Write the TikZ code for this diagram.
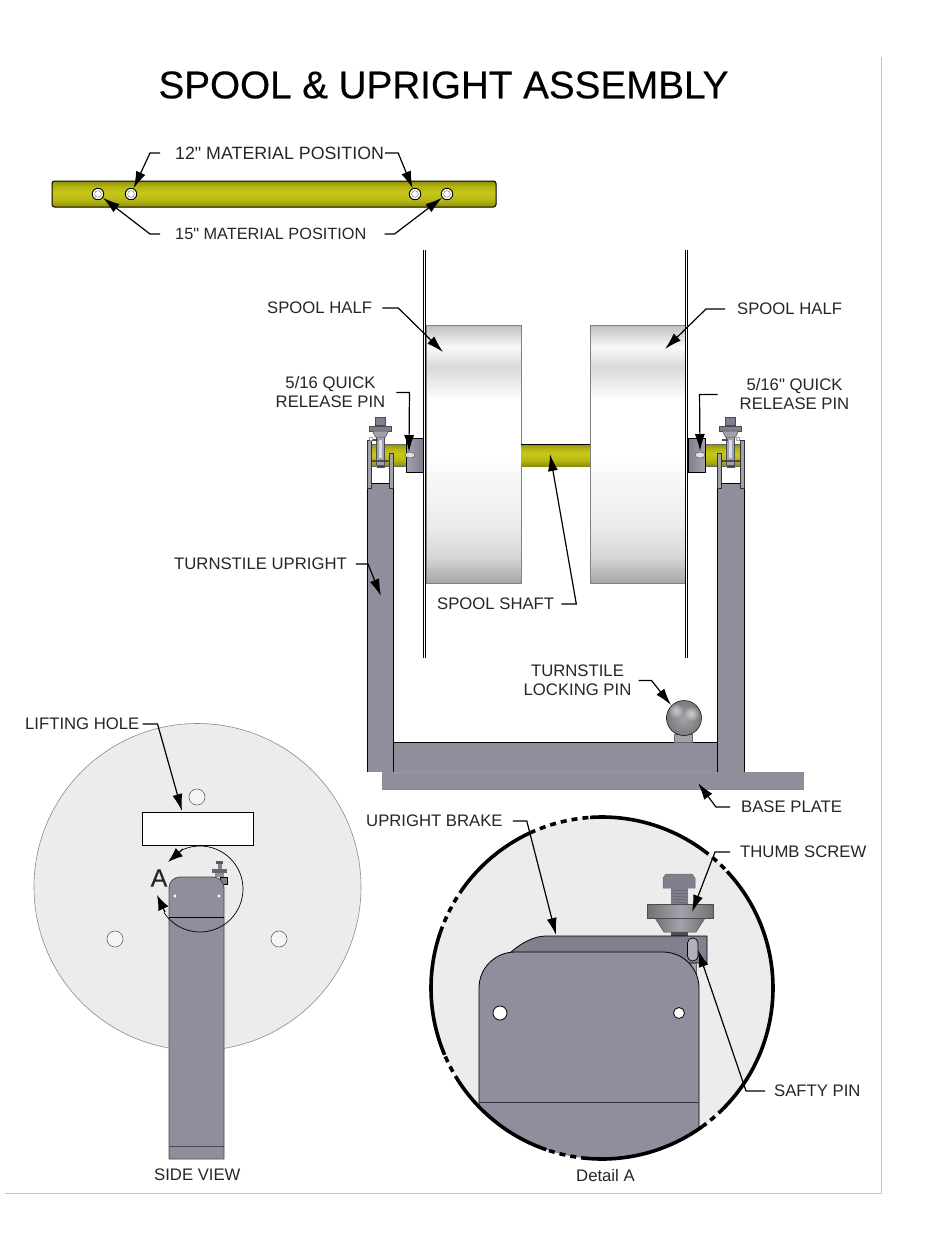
\documentclass[tikz,border=0pt]{standalone}
\usepackage{fontspec}
\setmainfont{Liberation Sans}[Ligatures=TeXOff]
\usetikzlibrary{arrows.meta}
\definecolor{steel}{HTML}{8E8E9C}
\definecolor{steelD}{HTML}{7F7F8D}
\definecolor{steelL}{HTML}{A2A2AE}
\definecolor{olive}{HTML}{B4B412}
\definecolor{oliveL}{HTML}{C8C818}
\definecolor{oliveD}{HTML}{8E8E0C}
\definecolor{disc}{HTML}{ECECEC}
\definecolor{pageline}{HTML}{C4C4C4}
\pgfdeclareverticalshading{drum}{100bp}{color(0bp)=(black!35); color(25bp)=(black!35); color(30bp)=(black!16); color(36bp)=(black!8); color(45.5bp)=(black!3); color(49.5bp)=(white); color(60.5bp)=(white); color(67bp)=(black!15); color(70.75bp)=(black!2); color(75bp)=(black!25); color(100bp)=(black!25)}
\pgfdeclareverticalshading{barshade}{100bp}{color(0bp)=(oliveD); color(25bp)=(oliveD); color(37bp)=(olive); color(52bp)=(oliveL); color(65bp)=(olive); color(75bp)=(oliveD); color(100bp)=(oliveD)}
\tikzset{
  lab/.style={font=\fontsize{16.7}{19}\selectfont,text=black!85,inner sep=0pt,anchor=west,align=center},
  leader/.style={draw=black,line width=1pt},
  tip/.style={leader,line width=1.2pt,-{Latex[length=17pt,width=10pt]}},
  pics/thumbpin/.style={code={
    \fill[steelL] (-4,425) rectangle (4,465);
    \fill[white!70!steel] (-2,440) rectangle (1,458);
    \draw[line width=.6pt,black!70] (-4,431) -- (-4,465) (4,431) -- (4,465);
    \filldraw[fill=steelD,draw=black!70,line width=.5pt] (-5,417) rectangle (5,425);
    \filldraw[fill=steelD,draw=black!70,line width=.5pt] (-11,426) rectangle (11,431);
    \filldraw[fill=steelL,draw=black!70,line width=.5pt] (-8,431) -- (8,431) -- (5,437) -- (-5,437) -- cycle;
    \fill[black!70] (-9,460) rectangle (9,462);
    \fill[black!70] (-4,465) rectangle (4,468);
    \fill[black!70] (-9,439) rectangle (-3,441);
  }},
}
\begin{document}
\begin{tikzpicture}[x=1pt,y=-1pt]
\useasboundingbox (0,0) rectangle (950,1254);
\fill[white] (0,0) rectangle (950,1254);
% page lines
\draw[pageline,line width=1pt] (881,57) -- (881,1193) -- (5,1193);
% title
\node[inner sep=0pt,font=\fontsize{38.6}{44}\selectfont\addfontfeature{FakeBold=0.4},text=black] (title) at (443.5,85) {SPOOL \& UPRIGHT ASSEMBLY};

% ---- top bar
\path[shading=barshade,draw=black,line width=1pt,rounded corners=2.5pt] (52,181) rectangle (496,207);
\foreach \n/\x in {h1/98,h2/131,h3/415,h4/447}{
  \node[circle,draw=black,line width=.9pt,fill=white,minimum size=11.5pt,inner sep=0pt] (\n) at (\x,194) {};
  \fill[black!55] (\x,194) circle[radius=3.6];
  \fill[white] (\x,194) circle[radius=3];
}
\node[lab,font=\fontsize{17.8}{19}\selectfont] (m12) at (175,153) {12" MATERIAL POSITION};
\node[lab,font=\fontsize{16.3}{19}\selectfont] (m15) at (175,234) {15" MATERIAL POSITION};
\draw[tip] ([xshift=-15pt]m12.west) -- ++(-10,0) -- (h2);
\draw[tip] ([xshift=1pt]m12.east) -- ++(13,0) -- (h3);
\draw[tip] ([xshift=-15pt]m15.west) -- ++(-10,0) -- (h1);
\draw[tip] ([xshift=18pt]m15.east) -- ++(10,0) -- (h4);

% ---- spool
\path[shading=drum,draw=black!50,line width=.6pt] (426,325) rectangle (521,583);
\path[shading=drum,draw=black!50,line width=.6pt] (590,325) rectangle (685,583);
\node[inner sep=0pt,minimum width=69pt,minimum height=22pt,shading=barshade] (shaft) at (555.5,455) {};
\draw[black,line width=.9pt] (521,444) -- (590,444);
\foreach \x in {423.3,425.7,685.3,687.5}{\draw[black,line width=.8pt] (\x,250) -- (\x,658);}
% stub shafts
\path[shading=barshade,draw=black!60,line width=.4pt] (371,444) rectangle (406,466);
\path[shading=barshade,draw=black!60,line width=.4pt] (705,444) rectangle (740,466);
% hubs
\path[left color=steelL,right color=steelD,draw=black,line width=.8pt] (406,438) rectangle (423,472);
\path[left color=steelD,right color=steelL,draw=black,line width=.8pt] (688,438) rectangle (705,472);
% release pins
\filldraw[fill=white!75!gray,draw=black!70,line width=.4pt] (410,455) ellipse[x radius=5,y radius=3];
\filldraw[fill=white!75!gray,draw=black!70,line width=.4pt] (700,455) ellipse[x radius=5,y radius=3];
\coordinate (pinL) at (409,452);
\coordinate (pinR) at (700,451);
% base plate, base, uprights
\path[fill=steel,draw=black!45,line width=.6pt] (382,772) rectangle (803,789);
\fill[steel] (367,483) rectangle (393,772);
\fill[steel] (717,483) rectangle (744,772);
\fill[steel] (393,742) rectangle (717,772);
\draw[black,line width=.9pt] (367,772) -- (367,483) -- (393,483) -- (393,742) -- (717,742) -- (717,483) -- (744,483) -- (744,772);
\draw[black,line width=.8pt] (393,742) -- (393,772) (717,742) -- (717,772);
\draw[black!40,line width=.5pt] (393,772) -- (717,772);
\foreach \a/\b/\c in {367/371/440,389/393/453,717/721/453,740.5/744/440}{
  \filldraw[fill=steelL,draw=black!80,line width=.5pt] (\a,\c) rectangle (\b,488);
}
\pic at (380.5,0) {thumbpin};
\pic at (730.5,0) {thumbpin};
\filldraw[fill=white,draw=black!70,line width=.4pt] (371,439) circle[radius=2];
\filldraw[fill=white,draw=black!70,line width=.4pt] (738,439) circle[radius=2];
\coordinate (baseT) at (698,783);
% ball
\filldraw[fill=steelL,draw=black!60,line width=.5pt] (674,734) rectangle (692,742);
\path[inner color=steelL,outer color=black!52,draw=black,line width=.5pt] (684,718) circle[radius=17.5];
\foreach \r in {7,6,5,4,3,2}{
  \fill[white,opacity=.1] (676,711) circle[radius=\r];
  \fill[white,opacity=.1] (692,714) circle[radius=\r];
}
\coordinate (ballT) at (671,705);

% labels main
\node[lab] (shL) at (267,308) {SPOOL HALF};
\node[lab] (shR) at (737,309) {SPOOL HALF};
\coordinate (shLt) at (443,352);
\coordinate (shRt) at (665,349);
\draw[tip] ([xshift=10pt]shL.east) -- ++(16,0) -- (shLt);
\draw[tip] ([xshift=-12pt]shR.west) -- ++(-19,0) -- (shRt);
\node[lab,anchor=center,align=center] (qL) at (330.5,392.5) {5/16 QUICK\\RELEASE PIN};
\node[lab,anchor=center,align=center] (qR) at (794.5,394.5) {5/16" QUICK\\RELEASE PIN};
\draw[tip] ([xshift=11pt]qL.east) -- ++(13,0) -- (pinL);
\draw[tip] ([xshift=-22pt]qR.west) -- ++(-18,0) -- (pinR);
\node[lab] (tu) at (174,564) {TURNSTILE UPRIGHT};
\coordinate (tuT) at (381,596);
\draw[tip] ([xshift=9pt]tu.east) -- ++(12,0) -- (tuT);
\node[lab] (ss) at (437,604) {SPOOL SHAFT};
\coordinate (ssT) at (550,454);
\draw[tip] ([xshift=7pt]ss.east) -- ++(15,0) -- (ssT);
\node[lab,anchor=center,align=center] (lp) at (577.5,680.5) {TURNSTILE\\LOCKING PIN};
\draw[tip] ([xshift=7pt]lp.east) -- ++(13,0) -- (ballT);
\node[lab] (bp) at (741,807) {BASE PLATE};
\draw[tip] ([xshift=-11pt]bp.west) -- ++(-14,0) -- (baseT);

% ---- side view
\filldraw[fill=disc,draw=black!45,line width=.6pt] (197.5,887) circle[radius=163.5];
\node[draw=black,line width=.9pt,fill=white,minimum width=111pt,minimum height=33pt,inner sep=0pt] (lift) at (197.5,828.5) {};
\coordinate (liftT) at (182,811);
\foreach \x/\y in {197/797,115/939,279/939}{
  \draw[black!60,fill=white!50!disc,line width=.6pt] (\x,\y) circle[radius=8];
}
% small brake
\fill[black!65] (216,861) rectangle (223,864);
\fill[steelD] (218,864) rectangle (222,869);
\fill[black!60] (212,869) rectangle (227,873);
\fill[steel] (215,873) rectangle (224,877);
\filldraw[fill=steelD,draw=black,line width=.4pt] (220,877) rectangle (227,884);
\path[fill=steel,draw=black!70,line width=.8pt,rounded corners=11pt] (169,1159) -- (169,877) -- (224,877) [sharp corners] -- (224,1159) -- cycle;
\draw[black,line width=.7pt] (169,917) -- (224,917);
\draw[black!70,line width=.6pt] (169,1146) -- (224,1146);
\fill[white] (175,896) circle[radius=1.6] (219,896) circle[radius=1.6];
% detail circle
\draw[black,line width=.7pt] (200,889) ++(247:43) arc[start angle=247,end angle=507,radius=43];
\node[inner sep=0pt,font=\fontsize{25}{28}\selectfont\addfontfeature{FakeBold=0.3},text=black!85] (aLab) at (159,878) {A};
\coordinate (a1b) at (183,849);
\coordinate (a1t) at (168,862);
\coordinate (a2b) at (165,912);
\coordinate (a2t) at (157,895);
\draw[tip,-{Latex[length=15pt,width=11pt]}] (a1b) -- (a1t);
\draw[tip,-{Latex[length=15pt,width=11pt]}] (a2b) -- (a2t);
\node[lab] (lh) at (25,724) {LIFTING HOLE};
\draw[tip] ([xshift=3pt]lh.east) -- ++(15,0) -- (liftT);
\node[lab] (sv) at (154,1175) {SIDE VIEW};

% ---- detail A
\fill[disc] (602,988) circle[radius=171];
\begin{scope}
\clip (602,988) circle[radius=171];
% bolt
\filldraw[fill=steelD,draw=black!60,line width=.5pt] (666,874) -- (692,874) -- (695,878) -- (695,888) -- (663,888) -- (663,878) -- cycle;
\draw[black!50,line width=.5pt] (671,875) -- (671,888) (687,875) -- (687,888);
\fill[steelD] (671,888) rectangle (688,904);
\foreach \y in {890,893,...,902}{\draw[black!60,line width=.7pt] (671,\y) -- (688,\y+1);}
\fill[black!70] (671,932) rectangle (688,937);
\path[left color=black!55,right color=black!55,middle color=steelL,draw=black!70,line width=.5pt] (655,918) -- (705,918) -- (696,932) -- (664,932) -- cycle;
\path[left color=black!55,right color=black!55,middle color=steelL,draw=black!70,line width=.5pt] (647,904) rectangle (713,918);
% back of brake
\filldraw[fill=steelD!90!steel,draw=black,line width=.8pt] (510,953) .. controls (522,942) and (535,936) .. (546,936) -- (707,936) -- (707,963) -- (688,963) -- cycle;
\filldraw[fill=steelL,draw=black!60,line width=.4pt] (688,963) rectangle (696,974);
\filldraw[fill=steelL!85!white,draw=black,line width=.7pt,rounded corners=5pt] (687.5,938) rectangle (698,961);
\coordinate (slotT) at (698,950);
% plate
\path[fill=steel,draw=black,line width=.8pt,rounded corners=36pt] (479,1165) -- (479,952) -- (699,952) [sharp corners] -- (699,1165) -- cycle;
\draw[black!80,line width=.7pt] (479,1102) -- (699,1102);
\end{scope}
\filldraw[fill=white,draw=black,line width=.8pt] (500,1013) circle[radius=7];
\filldraw[fill=white,draw=black,line width=.8pt] (679,1013) circle[radius=5.5];
% dashed/solid rim
\foreach \s/\e in {266/306.5,317/405,54/95,109/147,157/199,215/245}{
  \draw[black,line width=3.6pt] (602,988) ++(\s:171) arc[start angle=\s,end angle=\e,radius=171];
}
\foreach \s/\e in {245/266,199/215,147/157,95/109,45/54,306.5/317}{
  \draw[black,line width=3.6pt,dash pattern=on 6pt off 5pt] (602,988) ++(\s:171) arc[start angle=\s,end angle=\e,radius=171];
}
\coordinate (brT) at (556,935);
\coordinate (thT) at (692,912);
\node[lab] (ub) at (366,821) {UPRIGHT BRAKE};
\draw[tip] ([xshift=10pt]ub.east) -- ++(14,0) -- (brT);
\node[lab] (ts) at (740,852) {THUMB SCREW};
\draw[tip] ([xshift=-10pt]ts.west) -- ++(-15,0) -- (thT);
\node[lab] (sp) at (774,1091) {SAFTY PIN};
\draw[tip] ([xshift=-9pt]sp.west) -- ++(-19,0) -- (slotT);
\node[lab] (da) at (576,1176) {Detail A};
\end{tikzpicture}
\end{document}
